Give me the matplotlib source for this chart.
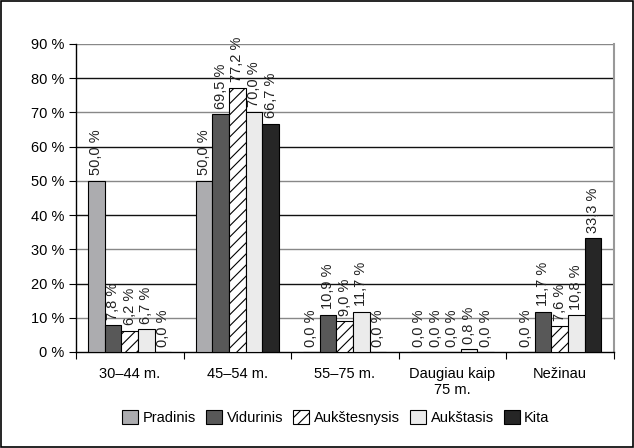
import numpy as np
import matplotlib.pyplot as plt
from matplotlib.patches import Rectangle

plt.rcParams['font.family'] = ['Liberation Sans', 'DejaVu Sans']
plt.rcParams['hatch.linewidth'] = 0.8

# duomenys
categories = ['30–44 m.', '45–54 m.', '55–75 m.', 'Daugiau kaip\n75 m.', 'Nežinau']
series = ['Pradinis', 'Vidurinis', 'Aukštesnysis', 'Aukštasis', 'Kita']
pradinis = [50.0, 50.0, 0.0, 0.0, 0.0]
vidurinis = [7.8, 69.5, 10.9, 0.0, 11.7]
aukstesnysis = [6.2, 77.2, 9.0, 0.0, 7.6]
aukstasis = [6.7, 70.0, 11.7, 0.8, 10.8]
kita = [0.0, 66.7, 0.0, 0.0, 33.3]
y_ticks = [0, 10, 20, 30, 40, 50, 60, 70, 80, 90]

values = [pradinis, vidurinis, aukstesnysis, aukstasis, kita]
colors = ['#acacaf', '#585858', 'white', '#ebebeb', '#262626']
hatches = [None, None, '///', None, None]

fig = plt.figure(figsize=(6.34, 4.48), dpi=100)
ax = fig.add_axes([0.1199, 0.2143, 0.8478, 0.6875])

x = np.arange(len(categories))
w = 0.155
for i, (name, vals) in enumerate(zip(series, values)):
    pos = x + (i - 2) * w
    ax.bar(pos, vals, w, color=colors[i], edgecolor='black', linewidth=0.8,
           hatch=hatches[i], label=name, zorder=3)
    for px, v in zip(pos, vals):
        ax.text(px, v + 1.6, f'{v:.1f} %'.replace('.', ','), rotation=90,
                ha='center', va='bottom', fontsize=10.5, color='#222222', zorder=4)

ax.set_xlim(-0.5, len(categories) - 0.5)
ax.set_ylim(0, 90)
ax.set_yticks(y_ticks)
ax.set_yticklabels([f'{t} %' for t in y_ticks], fontsize=10.5)
ax.set_xticks(np.arange(len(categories) + 1) - 0.5, minor=False)
ax.set_xticklabels([])
ax.set_xticks(x, minor=True)
ax.set_xticklabels(categories, minor=True, fontsize=10.5)
ax.tick_params(axis='x', which='minor', length=0, pad=11)
ax.tick_params(axis='x', which='major', length=5, direction='out')
ax.tick_params(axis='y', length=5, direction='out')

for i, t in enumerate(y_ticks):
    if t > 0:
        ax.axhline(t, color='#888888' if i % 2 == 1 else '#111111', linewidth=1.0, zorder=1)

ax.spines['top'].set_visible(False)
ax.spines['right'].set_color('#999999')
ax.spines['right'].set_linewidth(1.5)
ax.spines['left'].set_linewidth(1.0)
ax.spines['bottom'].set_linewidth(1.0)

fig.legend(loc='center', bbox_to_anchor=(0.53, 0.068), ncol=5, frameon=False,
           fontsize=10.5, handlelength=1.1, handleheight=1.1, handletextpad=0.3,
           columnspacing=0.7)

fig.patches.append(Rectangle((0.002, 0.002), 0.996, 0.996, transform=fig.transFigure,
                             fill=False, edgecolor='black', linewidth=1.2))

fig.savefig('out.png', dpi=100)
